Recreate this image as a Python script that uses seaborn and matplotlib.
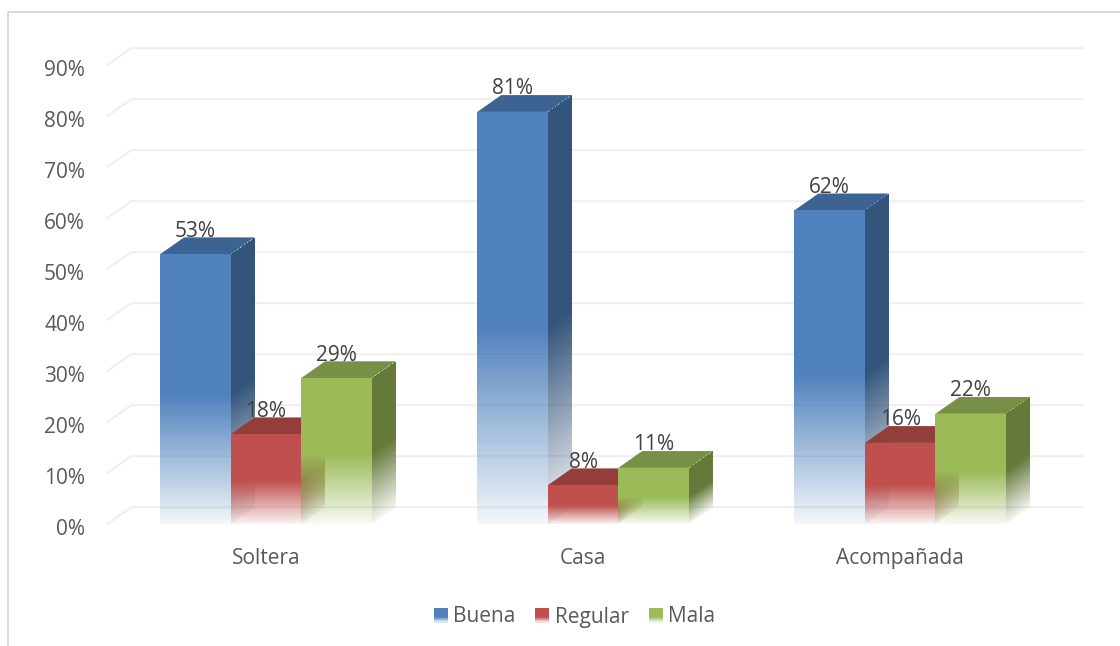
"""
3D-looking grouped bars with faded bases, drawn on a seaborn barplot
"""

import numpy as np
import pandas as pd
import matplotlib.pyplot as plt
import seaborn as sns
from matplotlib.collections import PolyCollection
from matplotlib.colors import to_rgb
from matplotlib.legend_handler import HandlerBase
from matplotlib.lines import Line2D
from matplotlib.patches import Polygon, Rectangle
from matplotlib.transforms import ScaledTranslation

categories = ['Soltera', 'Casa', 'Acompañada']
series = ['Buena', 'Regular', 'Mala']
buena = [52.9, 80.8, 61.5]
regular = [17.6, 7.6, 15.9]
mala = [28.6, 11.0, 21.6]
colors = ['#4F81BD', '#C0504D', '#9BBB59']
y_ticks = [0, 10, 20, 30, 40, 50, 60, 70, 80, 90]

W, H = 1120, 646
DEPTH_X = 24 / 317.5   # depth of the fake 3D, in category units
DEPTH_Y = 3.3          # same, in percent units
FADE_END = 0.48        # share of bar height where the fade stops
MIN_ALPHA = 0.06
FONT = 15

TEXT = '#595959'
LABEL = '#404040'
GRID = '#EFEFEF'
FRAME = '#D9D9D9'


def fade(t):
    return np.clip(MIN_ALPHA + (1 - MIN_ALPHA) * t / FADE_END, 0, 1)


def gradient_quad(ax, x0, x1, h, skew, color, z):
    """Vertical face faded towards its base, thin columns of thin strips"""
    t = np.linspace(0, 1, 91)
    cols = 24 if skew else 1
    xs = np.linspace(x0, x1, cols + 1)
    verts = []
    rgba = []
    for i in range(cols):
        off = skew * (i + 0.5) / cols
        for a, b in zip(t[:-1], t[1:]):
            verts.append([(xs[i], a * h + off), (xs[i + 1], a * h + off),
                          (xs[i + 1], b * h + off), (xs[i], b * h + off)])
            rgba.append((*color, fade((a + b) / 2)))
    coll = PolyCollection(verts, facecolors=rgba, edgecolors='none', linewidths=0,
                          antialiaseds=False, zorder=z, clip_on=False)
    ax.add_collection(coll, autolim=False)


class FadedSquare(HandlerBase):
    """Legend key with the same fade as the bars"""

    def create_artists(self, legend, orig, xd, yd, width, height, fontsize, trans):
        parts = []
        n = 14
        for i in range(n):
            r = Rectangle((-xd, -yd + height * i / n), width, height / n + 0.05,
                          facecolor=orig.get_facecolor()[:3], linewidth=0,
                          alpha=float(np.clip(0.1 + 0.9 * (i + 0.5) / n / 0.35, 0, 1)),
                          transform=trans)
            parts.append(r)
        return parts


df = pd.DataFrame({
    'cat': categories * 3,
    'serie': np.repeat(series, 3),
    'value': buena + regular + mala,
})

sns.set_theme(style='white')
plt.rcParams['font.family'] = ['Open Sans', 'DejaVu Sans']

fig = plt.figure(figsize=(W / 100, H / 100), dpi=100, facecolor='white')
ax = fig.add_axes([107.25 / W, (H - 524) / H, 951.5 / W, 459 / H])

sns.barplot(data=df, x='cat', y='value', hue='serie', order=categories, hue_order=series,
            palette=colors, saturation=1, width=2 / 3, gap=0, legend=False, ax=ax)

ax.set_xlim(-0.5, 2.5)
ax.set_ylim(0, 90)
ax.set_xlabel('')
ax.set_ylabel('')
ax.set_yticks(y_ticks)
ax.set_yticklabels([f'{v}%' for v in y_ticks])
ax.tick_params(axis='y', length=0, pad=16, labelsize=FONT, labelcolor=TEXT)
ax.tick_params(axis='x', length=0, pad=17, labelsize=FONT, labelcolor=TEXT)
sns.despine(ax=ax, left=True, bottom=True)

# tick labels sit a little below their gridline
nudge = ScaledTranslation(0, -2 / 72, fig.dpi_scale_trans)
for label in ax.get_yticklabels():
    label.set_transform(label.get_transform() + nudge)

# floor + back wall grid
for v in y_ticks:
    ax.add_line(Line2D([-0.5, -0.5 + DEPTH_X, 2.5 + DEPTH_X], [v, v + DEPTH_Y, v + DEPTH_Y],
                       color=GRID, lw=1.5, clip_on=False, zorder=1))

bars = sorted([p for p in ax.patches if p.get_height() > 0], key=lambda p: p.get_x())
z = 3
for bar in bars:
    x0, w, h = bar.get_x(), bar.get_width(), bar.get_height()
    x1 = x0 + w
    base = np.array(to_rgb(bar.get_facecolor()[:3]))
    bar.set_visible(False)

    gradient_quad(ax, x1, x1 + DEPTH_X, h, DEPTH_Y, base * 0.65, z)
    ax.add_patch(Polygon([(x0, h), (x1, h), (x1 + DEPTH_X, h + DEPTH_Y), (x0 + DEPTH_X, h + DEPTH_Y)],
                         facecolor=base * 0.77, edgecolor='none', clip_on=False, zorder=z + 1))
    gradient_quad(ax, x0, x1, h, 0, base, z + 2)
    ax.annotate(f'{h:.0f}%', (x0 + w / 2, h), xytext=(0, 23), textcoords='offset pixels',
                ha='center', va='center', fontsize=FONT, color=LABEL, zorder=50,
                annotation_clip=False)
    z += 3

handles = [Rectangle((0, 0), 1, 1, facecolor=c) for c in colors]
fig.legend(handles, series, loc='center', bbox_to_anchor=(574.5 / W, (H - 617) / H), ncols=3,
           frameon=False, fontsize=FONT, labelcolor=TEXT, handlelength=0.68, handleheight=0.7,
           handletextpad=0.26, columnspacing=0.95,
           handler_map={Rectangle: FadedSquare()})

# outer frame, cut by the image edge on the right and at the bottom
fig.add_artist(Line2D([7.5 / W, 7.5 / W, 1], [0, (H - 11.5) / H, (H - 11.5) / H],
                      color=FRAME, lw=1.4, transform=fig.transFigure))

fig.savefig('out.png', dpi=100)
